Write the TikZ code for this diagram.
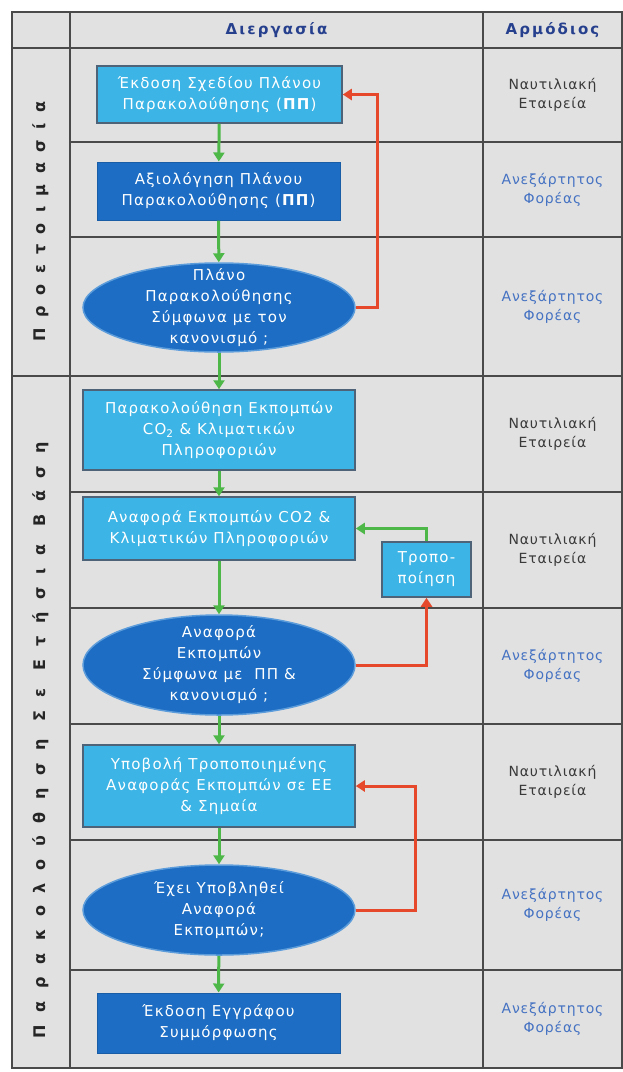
\documentclass[tikz,border=0pt]{standalone}
\usepackage{fontspec}
\setmainfont{DejaVu Sans}
\usetikzlibrary{shapes.geometric,arrows.meta}

\definecolor{cellgray}{HTML}{E1E1E1}
\definecolor{gridline}{HTML}{4A4A4A}
\definecolor{lightbox}{HTML}{3CB4E5}
\definecolor{boxedge}{HTML}{4F6378}
\definecolor{darkbox}{HTML}{1C6DC3}
\definecolor{ovaledge}{HTML}{5C9CDB}
\definecolor{headnavy}{HTML}{26408E}
\definecolor{okgreen}{HTML}{4DB848}
\definecolor{nored}{HTML}{E5482A}
\definecolor{agencyblue}{HTML}{4572C2}
\definecolor{shipgray}{HTML}{3A3A3A}

\newcommand{\boxfont}{\fontsize{15}{21}\selectfont\addfontfeature{LetterSpace=8}}

\begin{document}
\begin{tikzpicture}[x=1pt,y=-1pt,
  lightstep/.style={draw=boxedge,line width=1.5,fill=lightbox,inner sep=0pt},
  darkstep/.style={draw=darkbox!85!black,line width=1,fill=darkbox,inner sep=0pt},
  decision/.style={ellipse,draw=ovaledge,line width=1.5,fill=darkbox,inner sep=0pt},
  steptext/.style={text=white,align=center,font=\boxfont},
  whotext/.style={align=center,font=\fontsize{14}{19}\selectfont\addfontfeature{LetterSpace=6}},
  headtext/.style={text=headnavy,font=\bfseries\fontsize{15}{15}\selectfont\addfontfeature{LetterSpace=14}},
  phase/.style={rotate=90,text=black!85,font=\bfseries\fontsize{16}{16}\selectfont\addfontfeature{LetterSpace=#1}},
  flow/.style={draw=okgreen,line width=3,-{Triangle[length=9pt,width=11pt]}},
  reject/.style={draw=nored,line width=3,-{Triangle[length=9pt,width=11pt]}},
  gridrule/.style={draw=gridline,line width=2.5}]

\useasboundingbox (0,0) rectangle (622,1072);
\fill[cellgray] (12,12) rectangle (622,1068);
\draw[gridrule] (12,12) rectangle (622,1068);
\draw[gridrule] (70,12) -- (70,1068);
\draw[gridrule] (483,12) -- (483,1068);
\draw[gridrule] (12,48) -- (622,48);
\draw[gridrule] (12,376) -- (622,376);
\foreach \y in {142,237,492,608,724,840,970}
  \draw[gridrule] (70,\y) -- (622,\y);

\node[headtext] (hproc) at (276.5,30) {Διεργασία};
\node[headtext] (hwho) at (552.5,30) {Αρμόδιος};

\node[phase=65] (prep) at (41,221.5) {Προετοιμασία};
\node[phase=79] (annual) at (41,740) {Παρακολούθηση Σε Ετήσια Βάση};

\foreach \y [count=\i] in {95,434,550,782}
  \node[whotext,text=shipgray] (ship\i) at (552.5,\y) {Ναυτιλιακή\\Εταιρεία};
\foreach \y [count=\i] in {189.5,306.5,666,905,1019}
  \node[whotext,text=agencyblue] (verifier\i) at (552.5,\y) {Ανεξάρτητος\\Φορέας};

\node[lightstep,minimum width=245pt,minimum height=57pt] (draft) at (219.5,94.5) {};
\node[steptext] at (draft) {Έκδοση Σχεδίου Πλάνου\\Παρακολούθησης (\textbf{ΠΠ})};

\node[darkstep,minimum width=243pt,minimum height=58pt] (assess) at (218.5,191) {};
\node[steptext] at (assess) {Αξιολόγηση Πλάνου\\Παρακολούθησης (\textbf{ΠΠ})};

\node[decision,minimum width=272pt,minimum height=89pt] (planok) at (219,307.5) {};
\node[steptext] at (planok) {Πλάνο\\Παρακολούθησης\\Σύμφωνα με τον\\κανονισμό ;};

\node[lightstep,minimum width=272pt,minimum height=80pt] (monitor) at (219,430) {};
\node[steptext] at (monitor) {Παρακολούθηση Εκπομπών\\CO\textsubscript{2} \& Κλιματικών\\Πληροφοριών};

\node[lightstep,minimum width=272pt,minimum height=63pt] (report) at (219,528.5) {};
\node[steptext] at (report) {Αναφορά Εκπομπών CO2 \&\\Κλιματικών Πληροφοριών};

\node[lightstep,minimum width=89pt,minimum height=55pt] (amend) at (426.5,569.5) {};
\node[steptext] at (amend) {Τροπο-\\ποίηση};

\node[decision,minimum width=272pt,minimum height=100pt] (reportok) at (219,665) {};
\node[steptext] at (reportok) {Αναφορά\\Εκπομπών\\Σύμφωνα με~ ΠΠ \&\\κανονισμό ;};

\node[lightstep,minimum width=272pt,minimum height=82pt] (submit) at (219,786) {};
\node[steptext] at (submit) {Υποβολή Τροποποιημένης\\Αναφοράς Εκπομπών σε ΕΕ\\\& Σημαία};

\node[decision,minimum width=272pt,minimum height=90pt] (submitted) at (219,910) {};
\node[steptext] at (submitted) {Έχει Υποβληθεί\\Αναφορά\\Εκπομπών;};

\node[darkstep,minimum width=243pt,minimum height=60pt] (doc) at (218.5,1023) {};
\node[steptext] at (doc) {Έκδοση Εγγράφου\\Συμμόρφωσης};

\draw[flow] (draft) -- (assess);
\draw[flow] (assess) -- (planok);
\draw[flow] (planok) -- (monitor);
\draw[flow] (monitor) -- (report);
\draw[flow] (report) -- (reportok);
\draw[flow] (reportok) -- (submit);
\draw[flow] (submit) -- (submitted);
\draw[flow] (submitted) -- (doc);
\draw[flow] (amend.north) |- (report.east);

\draw[reject] (planok.east) -- ++(22,0) |- (draft.east);
\draw[reject] (reportok.east) -| (amend.south);
\draw[reject] (submitted.east) -- ++(60,0) |- (submit.east);
\end{tikzpicture}
\end{document}
